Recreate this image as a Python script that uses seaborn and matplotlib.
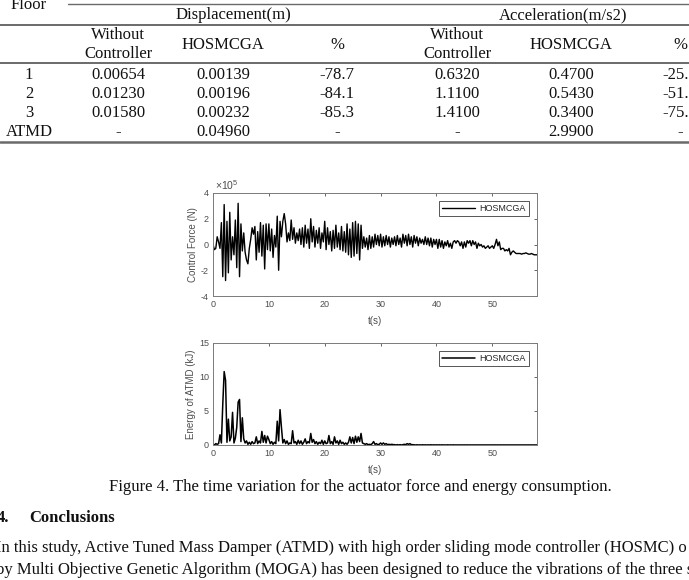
import numpy as np
import pandas as pd
import seaborn as sns
from matplotlib import pyplot as plt
from matplotlib.lines import Line2D

# ---- table values (Table: peak responses) ----
floors = ["1", "2", "3", "ATMD"]
disp_without = ["0.00654", "0.01230", "0.01580", "-"]
disp_hosmcga = ["0.00139", "0.00196", "0.00232", "0.04960"]
disp_pct = ["-78.7", "-84.1", "-85.3", "-"]
acc_without = ["0.6320", "1.1100", "1.4100", "-"]
acc_hosmcga = ["0.4700", "0.5430", "0.3400", "2.9900"]
acc_pct = ["-25.6", "-51.1", "-75.9", "-"]

# ---- control force (x1e5 N), sampled every 0.25 s ----
dt = 0.25
force = [
    0.0, -0.4, -0.3, 0.6, 0.2, -0.3, 1.7, -2.5, 3.1, -2.8, 1.8, -2.2, 2.5, -1.2, 0.6, -0.8, 1.9, -1.8, 3.2, -2.5,
    1.6, -0.5, 0.9, -0.6, -1.2, -1.5, -0.3, 0.4, 1.3, 0.8, 1.4, -1.2, 1.0, -0.6, 1.7, -0.9, 1.5, -1.9, 1.6, -0.4,
    1.6, -0.5, 1.2, -1.0, 0.7, -0.2, 2.2, -2.0, 1.8, 0.6, 1.8, 2.4, 1.6, 0.2, 0.9, 0.3, 1.9, 0.4, 1.3, 0.1,
    0.9, 0.3, 1.2, 0.0, 1.3, -0.2, 1.5, 0.1, 1.2, -0.3, 2.0, 0.2, 1.4, -0.2, 1.1, 0.1, 1.3, -0.3, 0.9, 0.2,
    1.8, -0.4, 1.3, 0.0, 1.0, -0.5, 1.1, -0.3, 1.5, -0.2, 0.9, -0.4, 1.4, -0.5, 1.0, -0.6, 1.6, -0.8, 1.2, -1.0,
    1.7, -0.9, 1.8, -0.7, 1.6, -1.2, 1.5, -0.3, 0.6, -0.2, 0.5, -0.4, 0.7, -0.3, 0.6, -0.2, 0.8, 0.0, 0.7, -0.1,
    0.8, -0.2, 0.6, -0.1, 0.7, 0.0, 0.6, -0.2, 0.5, 0.0, 0.6, -0.1, 0.7, 0.0, 0.5, -0.2, 0.8, 0.1, 0.7, -0.1,
    0.8, 0.0, 0.6, -0.2, 0.7, 0.1, 0.6, -0.1, 0.5, 0.1, 0.4, 0.0, 0.6, 0.0, 0.5, -0.1, 0.5, -0.2, 0.4, 0.0,
    0.4, -0.3, 0.4, -0.2, 0.3, -0.3, 0.2, -0.1, 0.3, -0.2, 0.1, -0.3, 0.2, 0.3, 0.1, 0.3, 0.2, -0.1, 0.2, -0.3,
    0.2, -0.2, 0.3, 0.1, 0.3, -0.1, 0.3, 0.0, 0.2, -0.3, 0.1, -0.1, 0.0, -0.2, -0.1, -0.3, -0.2, -0.1, -0.3, -0.2,
    -0.1, -0.3, 0.0, 0.4, -0.1, 0.2, -0.4, -0.3, -0.3, -0.5, -0.4, -0.5, -0.3, -0.8, -0.6, -0.5, -0.6, -0.7, -0.7, -0.7,
    -0.7, -0.75, -0.7, -0.7, -0.65, -0.7, -0.75, -0.75, -0.7, -0.75, -0.8, -0.8, -0.8,
]

# ---- energy of ATMD (kJ), same sampling ----
energy = [
    0.1, 0.0, 0.2, 0.1, 0.2, 1.5, 0.3, 6.0, 10.8, 9.5, 0.4, 3.8, 0.6, 1.2, 4.8, 0.3, 1.0, 2.6, 6.3, 6.7,
    0.5, 4.0, 0.9, 0.3, 0.6, 0.1, 0.4, 0.1, 0.5, 0.2, 0.3, 1.2, 0.2, 0.6, 0.3, 2.0, 0.4, 1.4, 0.3, 1.3,
    0.8, 0.2, 0.5, 0.1, 0.4, 0.2, 3.5, 0.6, 5.2, 2.6, 0.3, 0.8, 0.2, 0.6, 0.1, 0.3, 0.2, 2.1, 0.3, 0.5,
    0.1, 0.7, 0.2, 0.6, 0.1, 0.4, 0.9, 0.2, 0.5, 0.3, 1.7, 0.4, 0.8, 0.2, 0.5, 0.1, 0.4, 0.2, 0.7, 0.1,
    0.6, 0.2, 0.3, 1.4, 0.2, 0.5, 0.1, 1.2, 0.3, 0.6, 0.1, 0.7, 0.2, 0.4, 0.1, 0.3, 0.1, 0.4, 1.2, 0.3,
    1.1, 0.2, 1.3, 0.4, 1.2, 0.5, 1.7, 0.3, 0.2, 0.1, 0.2, 0.05, 0.1, 0.05, 0.2, 0.5, 0.1, 0.2, 0.05, 0.1,
    0.3, 0.1, 0.3, 0.1, 0.2, 0.05, 0.1, 0.05, 0.1, 0.05, 0.05, 0.0, 0.05, 0.0, 0.05, 0.0, 0.05, 0.1, 0.05, 0.2,
    0.1, 0.2, 0.05, 0.05, 0.03, 0.0, 0.03, 0.0, 0.02, 0.0, 0.03, 0.0, 0.02, 0.0, 0.02, 0.0, 0.03, 0.0, 0.02, 0.0,
    0.02, 0.0, 0.02, 0.0, 0.02, 0.0, 0.01, 0.0, 0.02, 0.0, 0.01, 0.0, 0.02, 0.0, 0.01, 0.0, 0.01, 0.0, 0.01, 0.0,
    0.01, 0.0, 0.01, 0.0, 0.01, 0.0, 0.01, 0.0, 0.01, 0.0, 0.01, 0.0, 0.01, 0.0, 0.01, 0.0, 0.01, 0.0, 0.01, 0.0,
    0.01, 0.0, 0.01, 0.0, 0.01, 0.0, 0.01, 0.0, 0.01, 0.0, 0.01, 0.0, 0.01, 0.0, 0.01, 0.0, 0.01, 0.0, 0.01, 0.0,
    0.01, 0.0, 0.01, 0.0, 0.01, 0.0, 0.01, 0.0, 0.01, 0.0, 0.01, 0.0, 0.01,
]

xticks = [0, 10, 20, 30, 40, 50]
force_yticks = [-4, -2, 0, 2, 4]
energy_yticks = [0, 5, 10, 15]

caption = "Figure 4. The time variation for the actuator force and energy consumption."
line1 = "In this study, Active Tuned Mass Damper (ATMD) with high order sliding mode controller (HOSMC) o"
line2 = "by Multi Objective Genetic Algorithm (MOGA) has been designed to reduce the vibrations of the three st"

sns.set_theme(style="white")
plt.rcParams["font.family"] = ["Liberation Serif", "DejaVu Serif"]
plt.rcParams["mathtext.fontset"] = "custom"
plt.rcParams["mathtext.rm"] = "Liberation Sans"
plt.rcParams["axes.unicode_minus"] = False

W, H = 689, 580
fig = plt.figure(figsize=(W / 100, H / 100), dpi=100)
fig.patch.set_facecolor("white")

def fx(x):
    return x / W

def fy(y):
    return 1 - y / H

def put(x, y, s, **kw):
    fig.text(fx(x), fy(y), s, ha=kw.pop("ha", "center"), va="center",
             fontsize=kw.pop("fontsize", 12), color="#111111", **kw)

def hline(x0, x1, y, lw=1.2):
    fig.add_artist(Line2D([fx(x0), fx(x1)], [fy(y), fy(y)], transform=fig.transFigure,
                          color="#6a6a6a", lw=lw))

# ---- table ----
hline(68, W, 4, 1.0)
hline(0, W, 25, 1.4)
hline(0, W, 63, 1.4)
hline(0, W, 142, 1.8)
put(29, 5, "Floor")
put(233, 15, "Displacement(m)")
put(563, 15, "Acceleration(m/s2)")
cols = [29, 118, 223, 337, 457, 571, 680]
for cx in (cols[1], cols[4]):
    put(cx, 35, "Without")
    put(cx, 54, "Controller")
for cx, s in ((cols[2], "HOSMCGA"), (cols[3], "%"), (cols[5], "HOSMCGA"), (cols[6], "%")):
    put(cx, 45, s)
rows_y = [75, 94, 113, 132]
for i, ry in enumerate(rows_y):
    vals = [floors[i], disp_without[i], disp_hosmcga[i], disp_pct[i],
            acc_without[i], acc_hosmcga[i], acc_pct[i]]
    for cx, v in zip(cols, vals):
        put(cx, ry, v)

# ---- plots ----
df_force = pd.DataFrame({"t": np.arange(len(force)) * dt, "force": force})
df_energy = pd.DataFrame({"t": np.arange(len(energy)) * dt, "energy": energy})

ax1 = fig.add_axes([fx(213), fy(296), fx(324), 103 / H])
ax2 = fig.add_axes([fx(213), fy(445), fx(324), 102 / H])

sns.lineplot(data=df_force, x="t", y="force", ax=ax1, color="black", lw=1.0,
             estimator=None, label="HOSMCGA")
sns.lineplot(data=df_energy, x="t", y="energy", ax=ax2, color="black", lw=1.1,
             estimator=None, label="HOSMCGA")

grey = "#4d4d4d"
sans = ["Liberation Sans", "DejaVu Sans"]
for ax, yt, ylab in ((ax1, force_yticks, "Control Force (N)"),
                     (ax2, energy_yticks, "Energy of ATMD (kJ)")):
    ax.set_xlim(0, 58)
    ax.set_ylim(yt[0], yt[-1])
    ax.set_xticks(xticks)
    ax.set_yticks(yt)
    ax.tick_params(direction="in", length=2.5, width=0.6, colors=grey, labelsize=6.5,
                   top=True, right=True, pad=3)
    for lab in ax.get_xticklabels() + ax.get_yticklabels():
        lab.set_family(sans)
    for sp in ax.spines.values():
        sp.set_color("#7a7a7a")
        sp.set_linewidth(0.7)
    ax.set_xlabel("t(s)", fontsize=7, color=grey, family=sans, labelpad=5)
    ax.set_ylabel(ylab, fontsize=7, color=grey, family=sans, labelpad=2)
    leg = ax.legend(loc="upper right", fancybox=False, edgecolor="#555555", framealpha=1,
                    prop={"family": sans, "size": 6.5}, handlelength=3.6,
                    borderaxespad=0.9, borderpad=0.35, handletextpad=0.5)
    leg.get_frame().set_linewidth(0.7)

ax1.text(0.005, 1.01, r"$\times10^{5}$", transform=ax1.transAxes, fontsize=7.5,
         color=grey, va="bottom", ha="left")

# ---- caption and text ----
put(360, 487, caption)
put(-3, 518, "4.", ha="left", fontweight="bold")
put(29, 518, "Conclusions", ha="left", fontweight="bold")
put(-4, 548, line1, ha="left")
put(-4, 570, line2, ha="left")

fig.savefig("out.png", dpi=100)
